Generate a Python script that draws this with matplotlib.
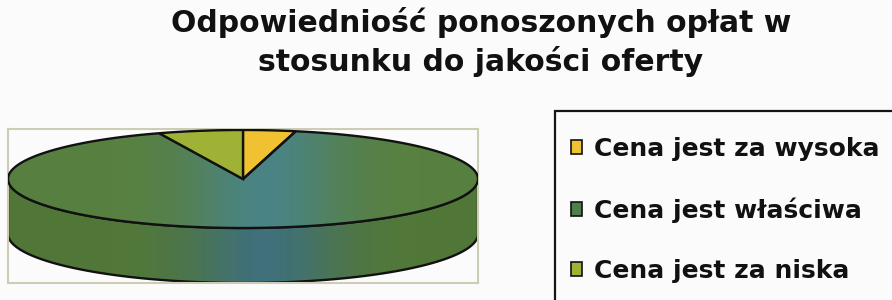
import numpy as np
import matplotlib.pyplot as plt
from matplotlib.patches import Polygon, Patch, Rectangle

# Data (share of answers, %)
labels = ['Cena jest za wysoka', 'Cena jest właściwa', 'Cena jest za niska']
values = [3.6, 90.6, 5.8]
colors = ['#f0c232', '#4f7f4a', '#a0b236']
title = 'Odpowiedniość ponoszonych opłat w\nstosunku do jakości oferty'

W, H = 892, 300
fig = plt.figure(figsize=(W / 100, H / 100), dpi=100, facecolor='#fbfbfb')

# pie plot area in pixel coordinates (y down)
x0, x1, y0, y1 = 8, 478, 129, 283
ax = fig.add_axes([x0 / W, 1 - y1 / H, (x1 - x0) / W, (y1 - y0) / H])
ax.set_facecolor('#fbfbfb')
ax.set_xticks([])
ax.set_yticks([])
for s in ax.spines.values():
    s.set_color('#cdcdb6')
    s.set_linewidth(1.5)

# 3D pie geometry
cx, cy = 243, 179
a, b = 235, 49
depth = 55


def rim(t, dy=0):
    t = np.radians(t)
    return np.column_stack([cx + a * np.cos(t), cy - b * np.sin(t) + dy])


def gradient(top=True):
    # green at the edges, teal-blue in the middle (like the scanned shading)
    xs = np.linspace(x0, x1, 400)
    w = np.exp(-((xs - 265) / 75) ** 2)
    if top:
        g, c = np.array([0x58, 0x80, 0x40]), np.array([0x4a, 0x84, 0x84])
    else:
        g, c = np.array([0x52, 0x78, 0x38]), np.array([0x40, 0x70, 0x7a])
    rgb = (g[None, :] * (1 - w[:, None]) + c[None, :] * w[:, None]) / 255
    return rgb[None, :, :]


# slice angles, clockwise from 12 o'clock
total = sum(values)
ends = 90 - np.cumsum(values) / total * 360
starts = np.concatenate([[90], ends[:-1]])

# side walls (front half only)
for i in range(len(values)):
    for k in (-1, 0, 1):
        lo = max(ends[i], 180 + 360 * k)
        hi = min(starts[i], 360 + 360 * k)
        if hi <= lo:
            continue
        t = np.linspace(lo, hi, 200)
        pts = np.vstack([rim(t), rim(t[::-1], depth)])
        poly = Polygon(pts, closed=True, facecolor=colors[i],
                       edgecolor='#111111', lw=1.7, zorder=2)
        ax.add_patch(poly)
        if i == 1:
            poly.set_facecolor('none')
            im = ax.imshow(gradient(False), extent=(x0, x1, y1, y0),
                           aspect='auto', zorder=1.9)
            im.set_clip_path(poly)

# top face
for i in range(len(values)):
    t = np.linspace(ends[i], starts[i], 400)
    pts = np.vstack([[cx, cy], rim(t)])
    poly = Polygon(pts, closed=True, facecolor=colors[i],
                   edgecolor='#111111', lw=1.7, zorder=3)
    ax.add_patch(poly)
    if i == 1:
        poly.set_facecolor('none')
        im = ax.imshow(gradient(True), extent=(x0, x1, y1, y0),
                       aspect='auto', zorder=2.9)
        im.set_clip_path(poly)
ax.set_xlim(x0, x1)
ax.set_ylim(y1, y0)

fig.text(481 / W, 1 - 42 / H, title, ha='center', va='center',
         fontsize=21.5, fontweight='bold', family='DejaVu Sans',
         linespacing=1.35, color='#111111')

# legend box (runs off the right and bottom edge, as in the scan)
fig.patches.append(Rectangle((555 / W, -0.1), 0.5, 1.1 - 111 / H,
                             transform=fig.transFigure, facecolor='#fbfbfb',
                             edgecolor='#151515', lw=1.6))

handles = [Patch(facecolor=c, edgecolor='#111111', lw=1.2) for c in colors]
leg = fig.legend(handles, labels, loc='upper left',
                 bbox_to_anchor=(571 / W, 1 - 137 / H),
                 prop={'family': 'DejaVu Sans', 'weight': 'bold', 'size': 18},
                 frameon=False, borderpad=0,
                 labelspacing=1.45, handlelength=0.45, handleheight=0.45,
                 handletextpad=0.45, borderaxespad=0)
for txt in leg.get_texts():
    txt.set_color('#111111')

fig.savefig('out.png', dpi=100, facecolor=fig.get_facecolor())
